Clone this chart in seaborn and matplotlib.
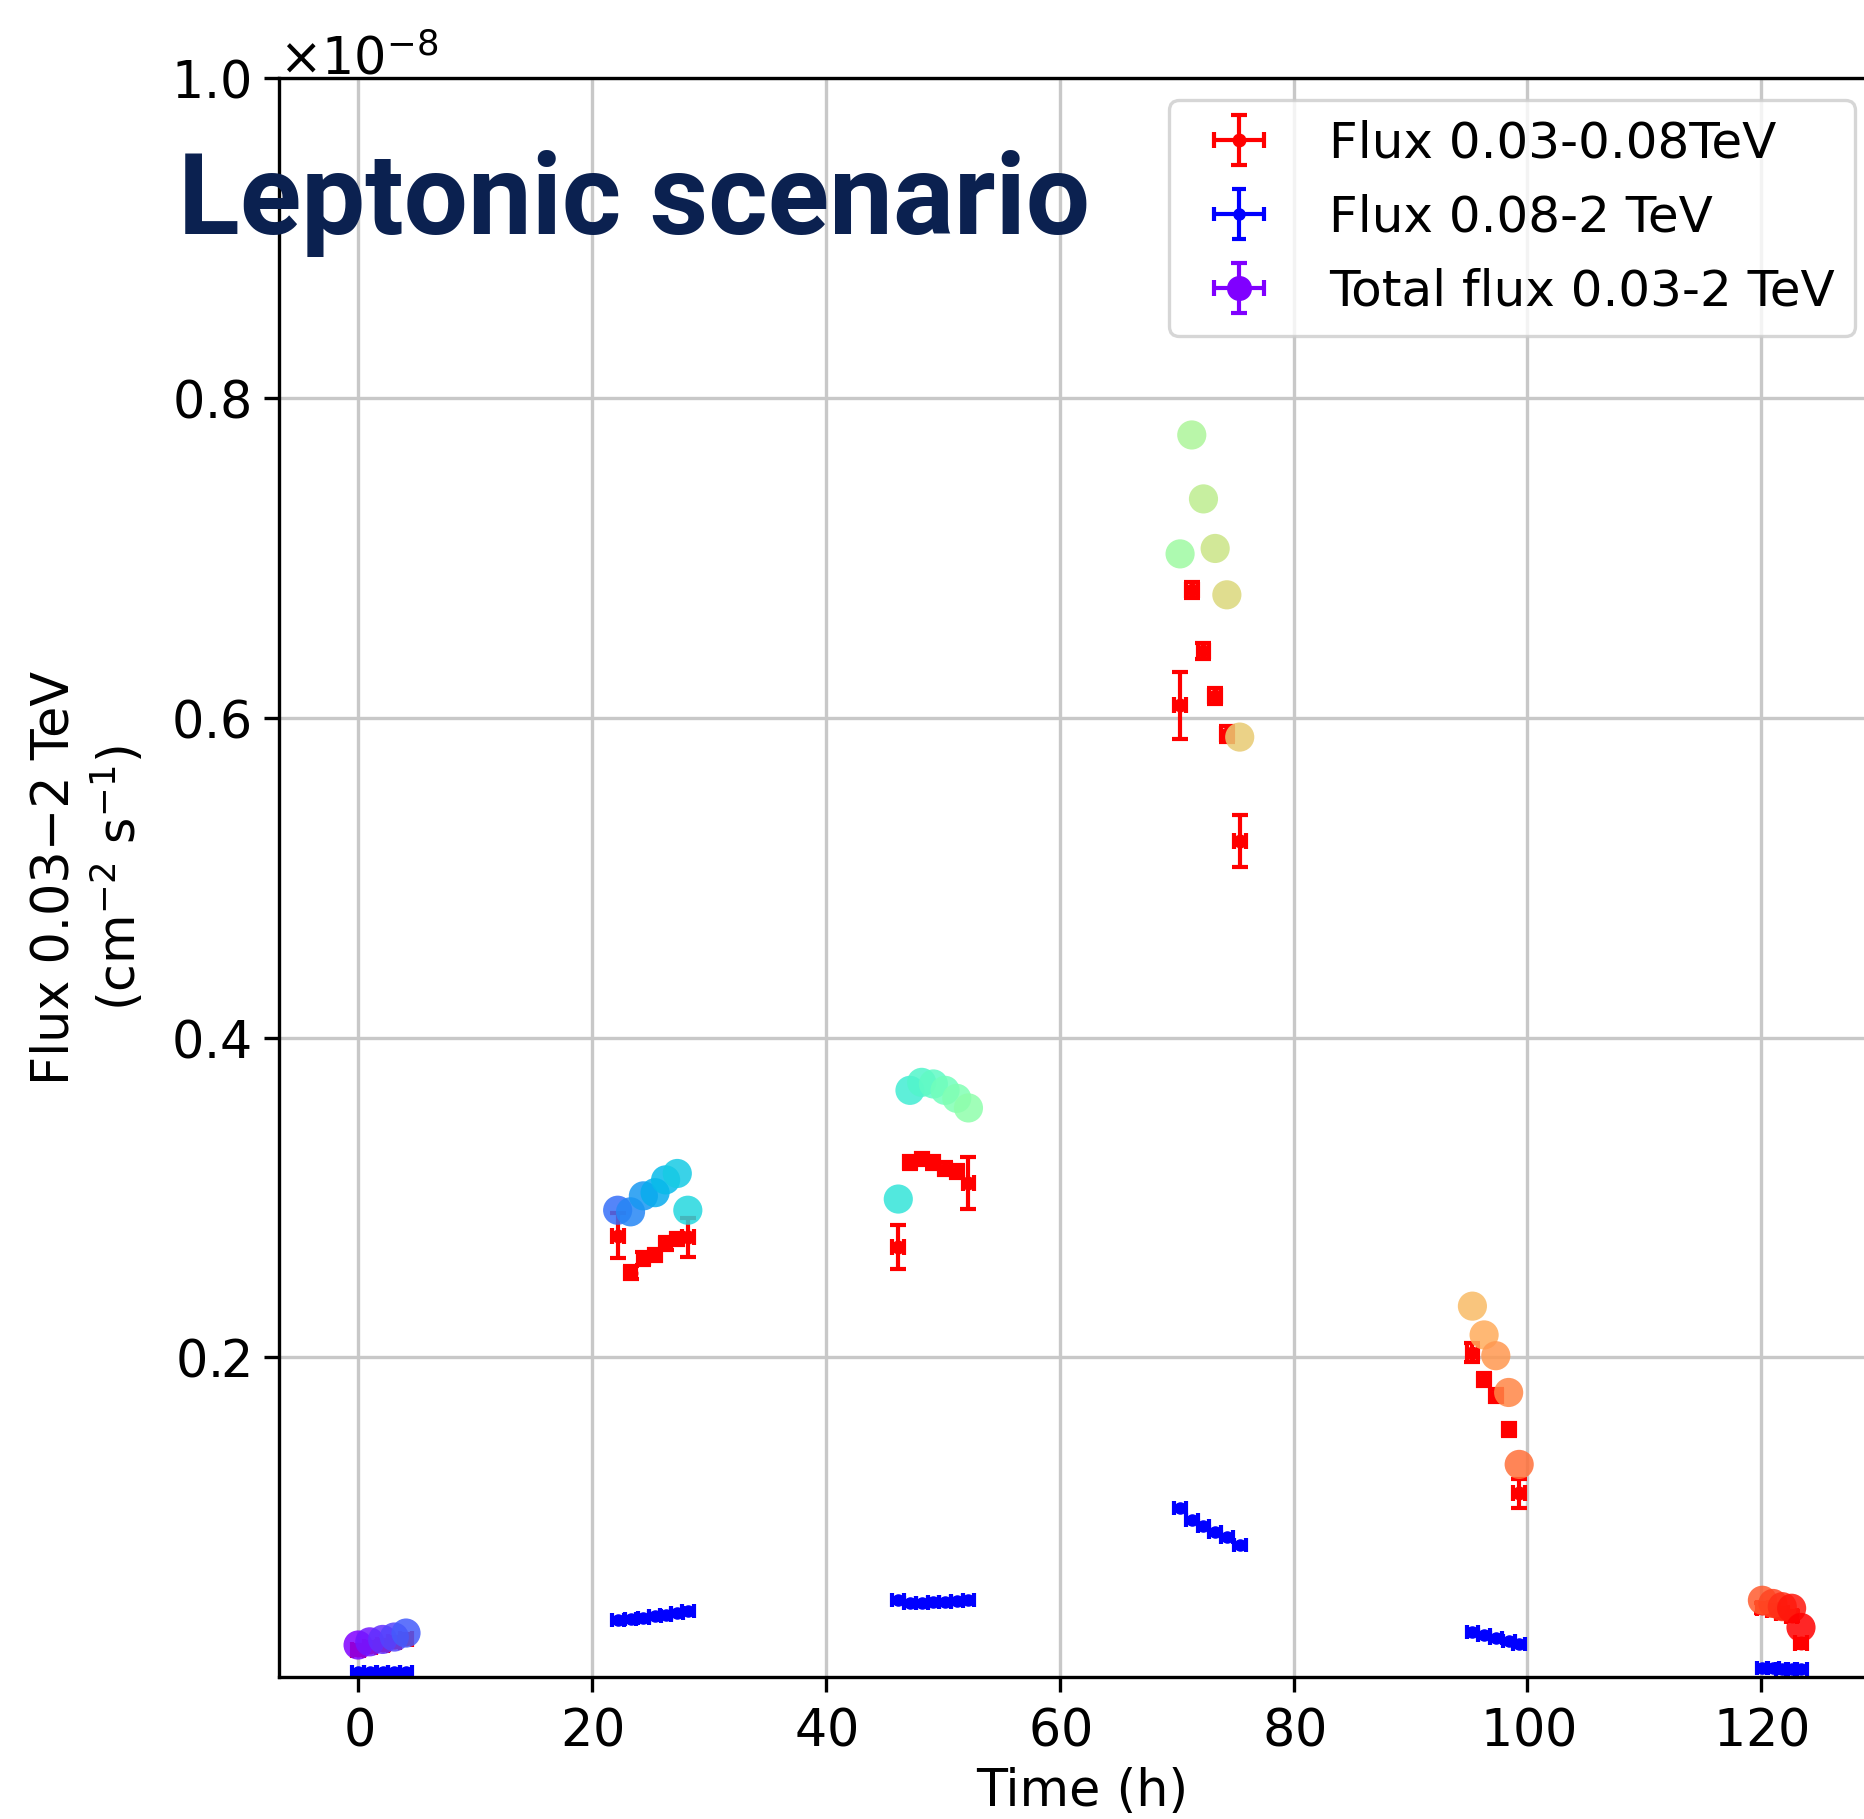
import numpy as np
import pandas as pd
import matplotlib
matplotlib.use("Agg")
import matplotlib.pyplot as plt
import seaborn as sns

# Observation times (h), one list entry per time bin, grouped by night
time_h = [0.0, 1.0, 2.1, 3.1, 4.1,
          22.2, 23.3, 24.4, 25.4, 26.3, 27.3, 28.2,
          46.2, 47.2, 48.2, 49.2, 50.2, 51.2, 52.2,
          70.3, 71.3, 72.3, 73.3, 74.3, 75.4,
          95.3, 96.3, 97.3, 98.4, 99.3,
          120.1, 121.0, 121.8, 122.6, 123.4]
bin_halfwidth_h = 0.5

# Fluxes in units of 1e-8 cm^-2 s^-1
flux_low = [0.017, 0.019, 0.020, 0.022, 0.024,
            0.276, 0.253, 0.262, 0.264, 0.271, 0.274, 0.275,
            0.269, 0.322, 0.324, 0.322, 0.318, 0.316, 0.309,
            0.608, 0.680, 0.642, 0.614, 0.590, 0.523,
            0.203, 0.186, 0.176, 0.155, 0.115,
            0.043, 0.042, 0.040, 0.038, 0.021]
flux_low_err = [0.003, 0.003, 0.003, 0.003, 0.003,
                0.014, 0.004, 0.004, 0.004, 0.004, 0.004, 0.012,
                0.014, 0.004, 0.004, 0.004, 0.004, 0.004, 0.016,
                0.021, 0.005, 0.005, 0.005, 0.005, 0.016,
                0.006, 0.004, 0.004, 0.004, 0.009,
                0.003, 0.003, 0.003, 0.003, 0.003]
flux_high = [0.0030, 0.0030, 0.0031, 0.0032, 0.0033,
             0.0357, 0.0365, 0.0372, 0.0380, 0.0390, 0.0400, 0.0410,
             0.0480, 0.0460, 0.0462, 0.0470, 0.0472, 0.0478, 0.0480,
             0.1056, 0.0980, 0.0944, 0.0907, 0.0877, 0.0825,
             0.0280, 0.0265, 0.0245, 0.0225, 0.0205,
             0.0055, 0.0055, 0.0053, 0.0052, 0.0050]
flux_high_err = [0.001] * len(flux_high)
flux_total = [0.020, 0.022, 0.0235, 0.025, 0.0275,
              0.292, 0.291, 0.301, 0.303, 0.311, 0.315, 0.292,
              0.299, 0.367, 0.372, 0.371, 0.367, 0.362, 0.356,
              0.7026, 0.777, 0.737, 0.706, 0.677, 0.588,
              0.232, 0.214, 0.201, 0.178, 0.133,
              0.048, 0.046, 0.044, 0.043, 0.031]

x_ticks = [0, 20, 40, 60, 80, 100, 120]
y_ticks = [0.2, 0.4, 0.6, 0.8, 1.0]
labels = ["Flux 0.03-0.08TeV", "Flux 0.08-2 TeV", "Total flux 0.03-2 TeV"]

unit = 1e-8
df = pd.DataFrame({
    "time": time_h,
    "low": np.array(flux_low) * unit,
    "low_err": np.array(flux_low_err) * unit,
    "high": np.array(flux_high) * unit,
    "high_err": np.array(flux_high_err) * unit,
    "total": np.array(flux_total) * unit,
})
df["order"] = np.arange(len(df))

FS = 36.5

sns.set_theme(style="ticks")
plt.rcParams.update({
    "font.family": ["DejaVu Sans"],
    "font.size": FS,
    "axes.linewidth": 2.4,
    "axes.edgecolor": "black",
    "axes.formatter.use_mathtext": True,
    "xtick.color": "black",
    "ytick.color": "black",
    "text.color": "black",
    "axes.labelcolor": "black",
})

W, H = 1865, 1819
fig = plt.figure(figsize=(W / 100, H / 100), dpi=100)
ax_left, ax_right, ax_top, ax_bottom = 279.5, 1884.0, 78.5, 1677.0
ax = fig.add_axes([ax_left / W, 1 - ax_bottom / H,
                   (ax_right - ax_left) / W, (ax_bottom - ax_top) / H])

ax.grid(True, color="#c8c8c8", linewidth=2.4)
ax.set_axisbelow(True)

cap_kw = dict(elinewidth=3.0, capthick=3.0, linestyle="none")
eb_low = ax.errorbar(df["time"], df["low"], xerr=bin_halfwidth_h, yerr=df["low_err"],
                     fmt="o", color="red", ms=9, capsize=6.1, zorder=2, **cap_kw)
eb_high = ax.errorbar(df["time"], df["high"], xerr=bin_halfwidth_h, yerr=df["high_err"],
                      fmt="o", color="blue", ms=8, capsize=4.7, zorder=2, **cap_kw)

# Total flux, coloured along the sequence of time bins
sns.scatterplot(data=df, x="time", y="total", hue="order", palette="rainbow",
                s=21 ** 2, alpha=0.85, linewidth=0, legend=False, zorder=3, ax=ax)

purple = plt.get_cmap("rainbow")(0.0)
eb_total = ax.errorbar([np.nan], [np.nan], xerr=[bin_halfwidth_h], yerr=[0.0],
                       fmt="o", color=purple, ms=17, capsize=6.1, **cap_kw)

ax.set_xlim(-6.72, 130.5)
ax.set_ylim(0, 1.0e-8)
ax.set_xticks(x_ticks)
ax.set_yticks(np.array(y_ticks) * unit)
ax.tick_params(axis="both", direction="out", length=10.5, width=2.4, pad=10.5,
               labelsize=FS)
ax.yaxis.get_offset_text().set_fontsize(FS)

ax.spines["right"].set_visible(False)

ax.set_xlabel("Time (h)", fontsize=FS, labelpad=8)
ax.set_ylabel("Flux 0.03−2 TeV\n(cm$^{-2}$ s$^{-1}$)", fontsize=FS)
ax.yaxis.set_label_coords((147 - ax_left) / (ax_right - ax_left), 0.5)

leg = ax.legend([eb_low, eb_high, eb_total], labels, loc="upper right",
                bbox_to_anchor=(1855 / W, 1 - 100 / H), bbox_transform=fig.transFigure,
                fontsize=36, frameon=True, fancybox=True, framealpha=0.8,
                borderpad=0.4, labelspacing=0.52, handlelength=2.0, handletextpad=0.8,
                borderaxespad=0)
leg.get_frame().set_edgecolor("#cccccc")
leg.get_frame().set_linewidth(2.4)

fig.text(178 / W, 1 - 234 / H, "Leptonic scenario", fontsize=82, fontweight="bold",
         family=["Roboto", "DejaVu Sans"], color="#0b2150", va="baseline", ha="left")

fig.savefig("out.png", dpi=100)
